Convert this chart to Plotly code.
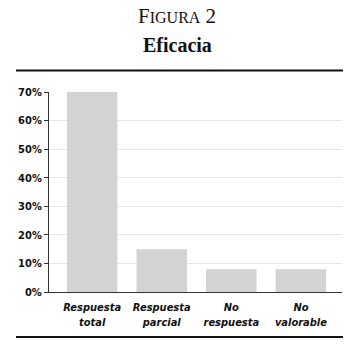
import plotly.graph_objects as go

categories = ["Respuesta<br>total", "Respuesta<br>parcial", "No<br>respuesta", "No<br>valorable"]
values = [70, 15, 8, 8]
tick_vals = [0, 10, 20, 30, 40, 50, 60, 70]
tick_text = [f"{v}%" for v in tick_vals]

font_narrow = "DejaVu Sans Condensed, Liberation Sans Narrow, sans-serif"
font_serif = "Liberation Serif, Times New Roman, serif"

fig = go.Figure()
fig.add_trace(go.Bar(
    x=list(range(len(categories))), y=values,
    marker=dict(color="#d3d3d3", line=dict(width=0)),
    width=0.725,
))

fig.update_layout(
    width=354, height=351,
    margin=dict(l=49, r=12, t=92, b=59),
    paper_bgcolor="white", plot_bgcolor="white",
    showlegend=False,
    xaxis=dict(
        range=[-0.62, 3.59],
        tickmode="array", tickvals=list(range(len(categories))),
        ticktext=[f"<b><i>{c}</i></b>" for c in categories],
        tickfont=dict(family=font_narrow, size=11, color="#111"),
        showgrid=False, zeroline=False,
        showline=True, linecolor="#333", linewidth=1,
        ticks="", ticklabelstandoff=5, fixedrange=True,
    ),
    yaxis=dict(
        range=[0, 70],
        tickmode="array", tickvals=tick_vals,
        ticktext=[f"<b>{t}</b>" for t in tick_text],
        tickfont=dict(family=font_narrow, size=11, color="#111"),
        showgrid=True, gridcolor="#e6e6e6", gridwidth=1,
        zeroline=False,
        showline=True, linecolor="#333", linewidth=1,
        ticks="outside", ticklen=4, tickcolor="#333",
        fixedrange=True,
    ),
    annotations=[
        dict(text="F<span style='font-size:16px'>IGURA</span> 2", x=0.5, y=16,
             xref="paper", yref="paper", showarrow=False,
             font=dict(family=font_serif, size=21, color="#111")),
        dict(text="<b>Eficacia</b>", x=0.5, y=45,
             xref="paper", yref="paper", showarrow=False,
             font=dict(family=font_serif, size=20, color="#111")),
    ],
)

plot_h = 351 - 92 - 59
plot_w = 354 - 49 - 12
def py(pix):
    return (351 - 59 - pix) / plot_h
def px(pix):
    return (pix - 49) / plot_w

for a in fig.layout.annotations:
    a.y = py(a.y)
    a.x = px(177)
    a.xanchor = "center"
    a.yanchor = "middle"

fig.add_shape(type="line", xref="paper", yref="paper",
              x0=px(16), x1=px(343), y0=py(70.5), y1=py(70.5),
              line=dict(color="#111", width=2))
fig.add_shape(type="line", xref="paper", yref="paper",
              x0=px(16), x1=px(343), y0=py(337), y1=py(337),
              line=dict(color="#111", width=2))

fig.write_html("out.html")
